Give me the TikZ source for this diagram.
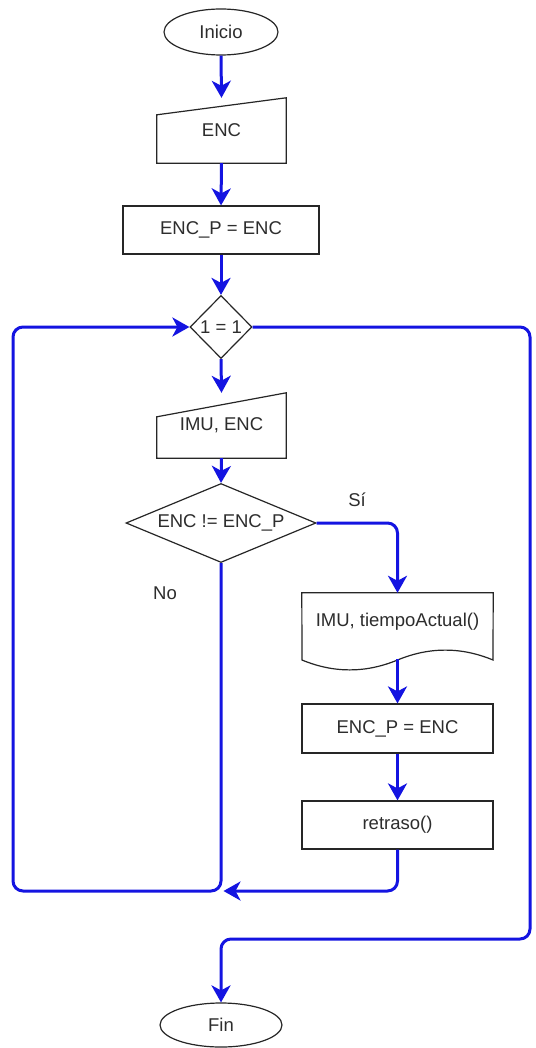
\documentclass[tikz,border=0pt]{standalone}
\usepackage{fontspec}
\setmainfont{Liberation Sans}
\usetikzlibrary{shapes.geometric,arrows.meta,calc}
\definecolor{flowblue}{RGB}{20,20,225}
\definecolor{txtgray}{RGB}{45,45,45}
\begin{document}
\begin{tikzpicture}[x=1pt,y=-1pt,
  every node/.style={font=\fontsize{18.5}{20}\selectfont, text=txtgray},
  shapeline/.style={draw=black!85, line width=1.2pt},
  term/.style={shapeline, ellipse, minimum width=114pt, minimum height=46pt, inner sep=0pt},
  procbox/.style={shapeline, rectangle, minimum width=196pt, minimum height=48pt, inner sep=0pt},
  ghost/.style={rectangle, inner sep=0pt},
  decis/.style={shapeline, diamond, inner sep=0pt},
  flow/.style={draw=flowblue, line width=3pt, rounded corners=10pt, -{Stealth[length=17pt,width=19pt,inset=5pt]}},
  lbl/.style={inner sep=0pt},
]
\fill[white] (0,0) rectangle (535,1048);
\useasboundingbox (0,0) rectangle (535,1048);

% nodes
\node[term] (inicio) at (221,32) {Inicio};
\node[ghost, minimum width=129pt, minimum height=65pt] (enc) at (221.5,130.5) {ENC};
\draw[shapeline] (enc.south west) -- (enc.south east) -- (enc.north east) -- ($(enc.north west)+(0,17)$) -- cycle;
\node[procbox] (encp) at (221,230) {ENC\_P = ENC};
\node[decis, aspect=1, minimum width=62pt, minimum height=63pt] (d1) at (221,327) {1 = 1};
\node[ghost, minimum width=129pt, minimum height=65pt] (imu) at (221.5,425.5) {IMU, ENC};
\draw[shapeline] (imu.south west) -- (imu.south east) -- (imu.north east) -- ($(imu.north west)+(0,24)$) -- cycle;
\node[decis, aspect=2.4, minimum width=190pt, minimum height=79pt] (d2) at (221,523) {ENC != ENC\_P};
\node[ghost, minimum width=191pt, minimum height=78pt] (doc) at (397.5,632) {};
\draw[shapeline] (doc.north west) -- (doc.north east) -- (493,660) .. controls (461.2,646.8) and (429.3,646.8) .. (397.5,660) .. controls (365.7,673.2) and (333.8,673.2) .. (302,660) -- cycle;
\node (doct) at (397.5,622) {IMU, tiempoActual()};
\node[procbox, minimum width=191pt, minimum height=49pt] (encp2) at (397.5,728.5) {ENC\_P = ENC};
\node[procbox, minimum width=191pt, minimum height=48pt] (ret) at (397.5,825) {retraso()};
\node[term, minimum width=122pt, minimum height=44pt] (fin) at (221,1025) {Fin};

\node[lbl] (si) at (357,500) {Sí};
\node[lbl] (no) at (165,593) {No};

% helper coordinates
\coordinate (docb) at (397.5,659);
\coordinate (jn) at (223.5,891);
\coordinate (lb) at (13,891);
\coordinate (rb) at (530,939);

% connectors
\draw[flow] (inicio.south) -- (enc.north);
\draw[flow] (enc.south) -- (encp.north);
\draw[flow] (encp.south) -- (d1.north);
\draw[flow] (d1.south) -- (imu.north);
\draw[flow] (imu.south) -- (d2.north);
\draw[flow] (d2.east) -| (doc.north);
\draw[flow] (docb) -- (encp2.north);
\draw[flow] (encp2.south) -- (ret.north);
\draw[flow] (ret.south) |- (jn);
\draw[flow] (d2.south) |- (lb) |- (d1.west);
\draw[flow] (d1.east) -| (rb) -| (fin.north);
\end{tikzpicture}
\end{document}
